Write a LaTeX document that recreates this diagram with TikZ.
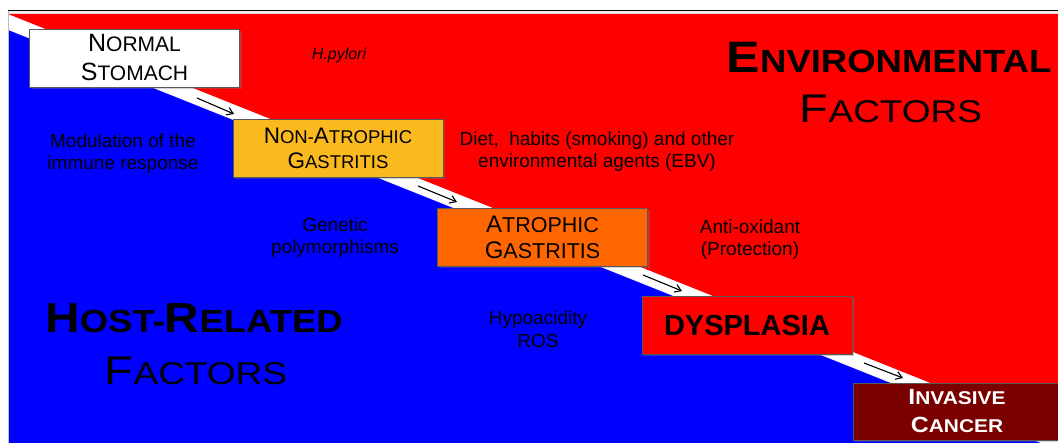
\documentclass[tikz,border=0pt]{standalone}
\usepackage{fontspec}
\setmainfont{Liberation Sans}
\usetikzlibrary{shadows,arrows.meta}
\definecolor{bgred}{RGB}{255,0,0}
\definecolor{bgblue}{RGB}{0,0,255}
\definecolor{nonatro}{RGB}{250,185,30}
\definecolor{atro}{RGB}{255,102,0}
\definecolor{inva}{RGB}{122,0,0}
\newcommand\fs[2]{{\fontsize{#1}{#1}\selectfont #2}}
\begin{document}
\begin{tikzpicture}[x=1pt,y=-1pt,
  stagebox/.style={draw=gray!70!black, line width=0.8pt, minimum width=210pt, minimum height=58pt,
    inner sep=0pt, align=center,
    drop shadow={shadow xshift=2pt,shadow yshift=-2pt,opacity=0.35}},
  body/.style={align=center, font=\fontsize{19}{22}\selectfont},
  arr/.style={-{Straight Barb[length=6pt,width=8pt]}, line width=1.1pt, black}]
\useasboundingbox (0,0) rectangle (1058,443);
\begin{scope}
\clip (0,0) rectangle (1058,443);
\fill[white] (0,0) rectangle (1058,443);
\fill[gray!12] (8,11) rectangle (1058,14);
\fill[bgred] (8,14) -- (1058,14) -- (1058,434) -- cycle;
\fill[bgblue] (8,30) -- (1058,450) -- (1058,470) -- (8,470) -- cycle;
\draw[gray!50, line width=0.8pt] (8,10) -- (8,443);
\draw[black, line width=1.2pt] (8,10.5) -- (1058,10.5);

\node[stagebox, fill=white, font=\fontsize{21}{29}\selectfont] (normal) at (134.5,58)
  {\fs{25}{N}ORMAL\\\fs{25}{S}TOMACH};
\node[stagebox, fill=nonatro, font=\fontsize{18.5}{25}\selectfont] (nonatro) at (338,148)
  {\fs{22.5}{N}ON-\fs{22.5}{A}TROPHIC\\\fs{22.5}{G}ASTRITIS};
\node[stagebox, fill=atro, font=\fontsize{21.5}{26}\selectfont] (atro) at (542.5,237)
  {\fs{24}{A}TROPHIC\\\fs{24}{G}ASTRITIS};
\node[stagebox, fill=bgred, font=\bfseries\fontsize{29}{29}\selectfont] (dys) at (747,325.5)
  {DYSPLASIA};
\node[stagebox, fill=inva, text=white, minimum height=57pt, minimum width=208pt,
  font=\bfseries\fontsize{18.5}{28}\selectfont] (inv) at (957,411.5)
  {\scalebox{1.13}[1]{\fs{22}{I}NVASIVE}\\\scalebox{1.13}[1]{\fs{22}{C}ANCER}};

\coordinate (a1s) at (197,98);  \coordinate (a1e) at (234,114);
\coordinate (a2s) at (418,186); \coordinate (a2e) at (457,202);
\coordinate (a3s) at (643,275); \coordinate (a3e) at (682,291);
\coordinate (a4s) at (864,363); \coordinate (a4e) at (903,378);
\draw[arr] (a1s) -- (a1e);
\draw[arr] (a2s) -- (a2e);
\draw[arr] (a3s) -- (a3e);
\draw[arr] (a4s) -- (a4e);

\node[anchor=base, font=\bfseries] (env1) at (889,73)
  {\scalebox{1.14}[1]{\fs{44}{E}\fs{32}{NVIRONMENTAL}}};
\node[anchor=base] (env2) at (891,123)
  {\scalebox{1.175}[1]{\fs{40}{F}\fs{31.5}{ACTORS}}};
\node[anchor=base, font=\bfseries] (host1) at (194,333)
  {\scalebox{1.14}[1]{\fs{42}{H}\fs{32}{OST-}\fs{42}{R}\fs{32}{ELATED}}};
\node[anchor=base] (host2) at (196,385)
  {\scalebox{1.175}[1]{\fs{40}{F}\fs{31.5}{ACTORS}}};

\node[anchor=base, font=\itshape\fontsize{16}{16}\selectfont] (hp) at (339,60) {H.pylori};
\node[body] (mod) at (123,154) {Modulation of the\\immune response};
\node[body] (diet) at (597,152) {Diet,\ \ habits (smoking) and other\\environmental agents (EBV)};
\node[body] (gen) at (335,237.5) {Genetic\\polymorphisms};
\node[body] (anti) at (750,240) {Anti-oxidant\\(Protection)};
\node[body, font=\fontsize{19}{23}\selectfont] (hypo) at (538,329.5) {Hypoacidity\\ROS};
\end{scope}
\end{tikzpicture}
\end{document}
